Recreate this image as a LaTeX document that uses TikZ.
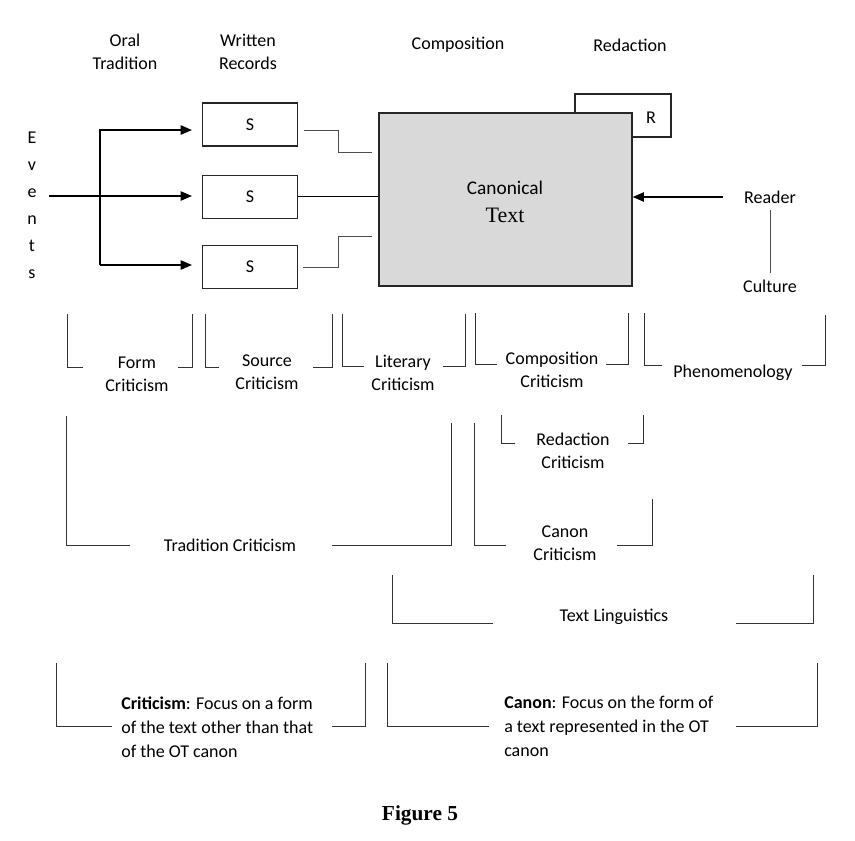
\documentclass[tikz,border=0pt]{standalone}
\usepackage{fontspec}
\setmainfont{Carlito}
\newfontfamily\timesfont{Liberation Serif}
\usetikzlibrary{arrows.meta,positioning}
\definecolor{boxgray}{HTML}{D9D9D9}

\begin{document}
\begin{tikzpicture}[x=0.75pt,y=-0.75pt,font=\fontsize{13.5}{17.25}\selectfont]
\tikzstyle{lbl}=[inner sep=0pt, align=center]
\tikzstyle{sbox}=[draw=black!85, line width=0.8pt, minimum width=71.25pt, minimum height=32.25pt, inner sep=0pt]
\tikzstyle{arr}=[line width=1.1pt, -{Triangle[length=8.5pt,width=7pt]}]
\tikzstyle{link}=[draw=black!70, line width=0.7pt]
\tikzstyle{brk}=[draw=black!80, line width=0.7pt]
\tikzstyle{note}=[inner sep=0pt, anchor=west, align=left, font=\fontsize{13.5}{18}\selectfont]

\useasboundingbox (0,0) rectangle (855,840);

% column heads
\node[lbl] (oral) at (125,52) {Oral\\Tradition};
\node[lbl] (written) at (248,52) {Written\\Records};
\node[lbl] (compos) at (458,45) {Composition};
\node[lbl] (redact) at (630,45) {Redaction};

% written sources
\node[sbox] (s1) at (250,124.5) {S};
\node[sbox, below=21pt of s1] (s2) {S};
\node[sbox, below=19.5pt of s2] (s3) {S};

% redaction box behind the text
\node[sbox, minimum width=72pt] (rbox) at (623,115.5) {};
\node[lbl] (rlbl) at (651,118) {R};

% canonical text
\node[draw=black!85, line width=0.9pt, fill=boxgray, minimum width=189.75pt, minimum height=129.75pt] (canon) at (505.5,199.5) {};
\node[lbl, font=\fontsize{14.5}{21}\selectfont] (canontxt) at (505,202) {Canonical\\{\timesfont\fontsize{16.5}{21}\selectfont Text}};

% events
\node[lbl, font=\fontsize{13.5}{20.25}\selectfont] (events) at (32,205) {E\\v\\e\\n\\t\\s};
\coordinate (evstart) at (49,196);
\coordinate (fork1) at (100,130);
\coordinate (fork3) at (100,265);
\draw[arr, shorten >=7.5pt] (evstart) -- (evstart -| s2.west);
\draw[arr, shorten >=7.5pt] (fork3) -- (fork1) -- (fork1 -| s1.west);
\draw[arr, shorten >=7.5pt] (fork3) -- (fork3 -| s3.west);

% sources into the text
\draw[link] ([shift={(6,5.5)}]s1.east) -- ++(34,0) |- ([shift={(-6,-47.5)}]canon.west);
\draw[link, draw=black] (s2.east) -- (s2.east -| canon.west);
\draw[link] ([shift={(5,0.5)}]s3.east) -- ++(35,0) |- ([shift={(-6,36.5)}]canon.west);

% reader
\node[lbl] (reader) at (770,197) {Reader};
\node[lbl, below=57pt of reader] (culture) {Culture};
\draw[arr] ([xshift=-15.75pt]reader.west) -- (reader.west -| canon.east);
\draw[link, shorten <=4.5pt, shorten >=5pt] (reader) -- (culture);

% first row of methods
\node[lbl] (form) at (137,374.5) {Form\\Criticism};
\draw[brk] (83,367) -| (67,314);
\draw[brk] (178,367) -| (192,314);
\node[lbl] (source) at (267,372.5) {Source\\Criticism};
\draw[brk] (219,367) -| (205,314);
\draw[brk] (313,367) -| (332,314);
\node[lbl] (literary) at (403,372.5) {Literary\\Criticism};
\draw[brk] (364,366) -| (342,314);
\draw[brk] (443,366) -| (465,314);
\node[lbl] (compcrit) at (552,370) {Composition\\Criticism};
\draw[brk] (497,364) -| (475,313);
\draw[brk] (606,364) -| (628,313);
\node[lbl] (phenom) at (733,373) {Phenomenology};
\draw[brk] (662,365) -| (644,313);
\draw[brk] (802,365) -| (825,315);

% redaction criticism
\node[lbl] (redcrit) at (573,450.5) {Redaction\\Criticism};
\draw[brk] (515,443) -| (501,415);
\draw[brk] (628,443) -| (643,415);

% tradition and canon criticism
\node[lbl] (tradcrit) at (230,545) {Tradition Criticism};
\draw[brk] (130,545) -| (66,416);
\draw[brk] (332,545) -| (451,423);
\node[lbl] (canoncrit) at (565,543.5) {Canon\\Criticism};
\draw[brk] (506,545) -| (474,423);
\draw[brk] (617,545) -| (652,499);

% text linguistics
\node[lbl] (textling) at (614,617) {Text Linguistics};
\draw[brk] (493,623) -| (392,575);
\draw[brk] (736,623) -| (813,575);

% the two foci
\node[note] (critnote) at (121,727) {\textbf{Criticism}: Focus on a form\\of the text other than that\\of the OT canon};
\draw[brk] (112,726) -| (56,663);
\draw[brk] (332,726) -| (365,663);
\node[note] (canonnote) at (504,726) {\textbf{Canon}: Focus on the form of\\a text represented in the OT\\canon};
\draw[brk] (489,726) -| (387,663);
\draw[brk] (736,726) -| (817,663);

\node[lbl] (caption) at (420,815) {\timesfont\bfseries\fontsize{16}{19}\selectfont Figure 5};
\end{tikzpicture}
\end{document}
